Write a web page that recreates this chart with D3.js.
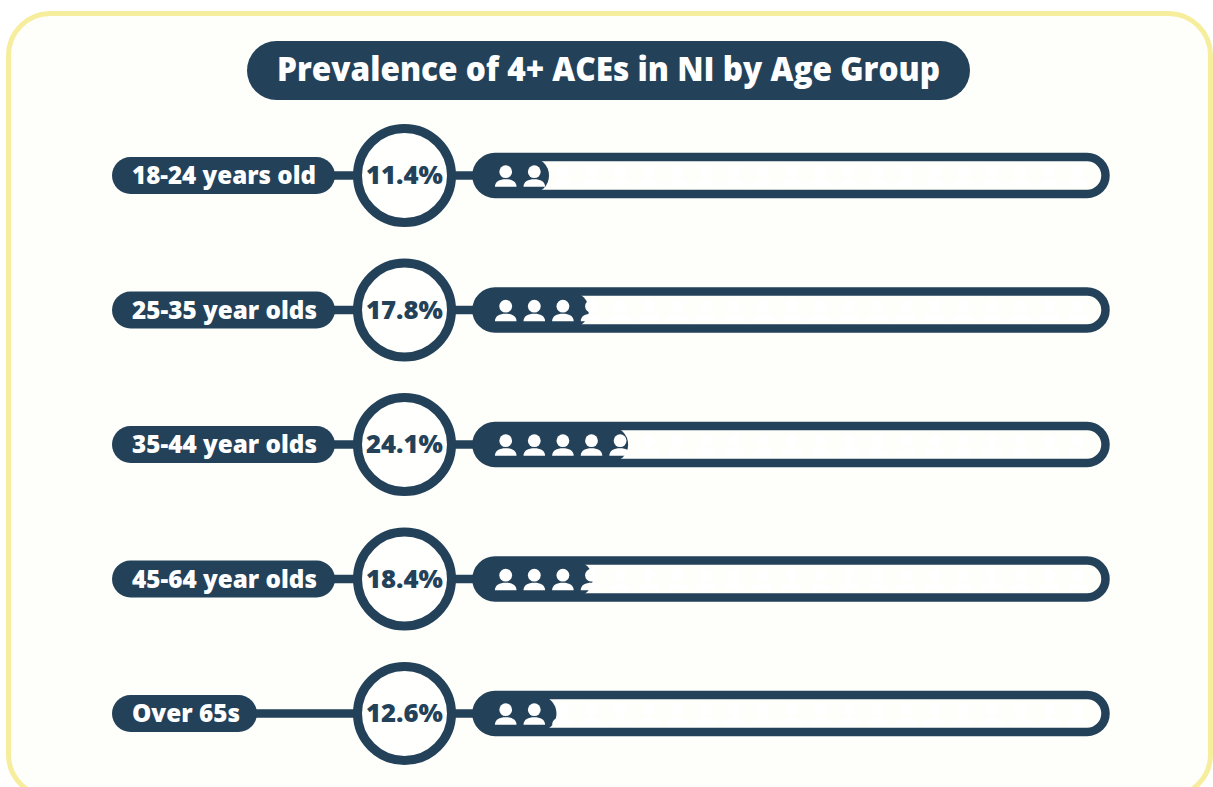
<!DOCTYPE html>
<html><head><meta charset="utf-8">
<script src="https://cdn.jsdelivr.net/npm/d3@7/dist/d3.min.js"></script>
<style>html,body{margin:0;padding:0;background:#fff;overflow:hidden}svg{display:block}text{font-family:"Open Sans",sans-serif;font-weight:800}</style>
</head><body><div id="c"></div>
<script>
const chartTitle = "Prevalence of 4+ ACEs in NI by Age Group";
const categories = ["18-24 years old","25-35 year olds","35-44 year olds","45-64 year olds","Over 65s"];
const values = [11.4,17.8,24.1,18.4,12.6];
const W=1213,H=787,dark="#23425a",paper="#fefefa",yellow="#f6ee9c";
const svg=d3.select("#c").append("svg").attr("width",W).attr("height",H);
svg.append("rect").attr("x",8.5).attr("y",13.5).attr("width",1202).attr("height",783).attr("rx",42)
  .attr("fill",paper).attr("stroke",yellow).attr("stroke-width",5);
svg.append("rect").attr("x",247).attr("y",41).attr("width",723).attr("height",59).attr("rx",29.5).attr("fill",dark);
svg.append("text").attr("x",277).attr("y",81).attr("fill","#fff")
  .attr("font-size",33).attr("textLength",663).attr("lengthAdjust","spacingAndGlyphs").text(chartTitle);
const y=d3.scalePoint().domain(categories).range([175.5,713.5]);
const x=d3.scaleLinear().domain([0,100]).range([478,1101]);
const slot=d3.scaleLinear().domain([0,1]).range([505.7,534.3]);
const slots=d3.range(21);
const pillW=d3.scaleOrdinal().domain(categories).range([223,223,223,223,145]);
const labelW=d3.scaleOrdinal().domain(categories).range([184,185,185,185,108]);
const row=svg.selectAll("g.row").data(categories.map((c,i)=>({c,v:values[i]}))).join("g")
  .attr("class","row").attr("transform",d=>`translate(0,${y(d.c)})`);
row.append("line").attr("x1",240).attr("x2",480).attr("y1",0).attr("y2",0).attr("stroke",dark).attr("stroke-width",8.5);
row.append("rect").attr("x",112).attr("y",-18.5).attr("width",d=>pillW(d.c)).attr("height",37).attr("rx",18.5).attr("fill",dark);
row.append("text").attr("x",132).attr("y",8.5).attr("fill","#fff").attr("font-size",24.5)
  .attr("textLength",d=>labelW(d.c)).attr("lengthAdjust","spacingAndGlyphs").text(d=>d.c);
row.append("circle").attr("cx",404.5).attr("cy",0).attr("r",47).attr("fill","#fffffd").attr("stroke",dark).attr("stroke-width",9);
row.append("text").attr("x",366).attr("y",8.5).attr("fill",dark).attr("font-size",25.5)
  .attr("textLength",77).attr("lengthAdjust","spacingAndGlyphs").text(d=>d.v.toFixed(1)+"%");
row.append("rect").attr("x",476.5).attr("y",-18.5).attr("width",629).attr("height",37).attr("rx",18.5)
  .attr("fill",paper).attr("stroke",dark).attr("stroke-width",8.5);
row.append("rect").attr("x",474).attr("y",-18).attr("width",d=>x(d.v)-474).attr("height",36).attr("rx",18).attr("fill",dark);
const icon=row.selectAll("g.p").data(slots).join("g").attr("class","p").attr("transform",i=>`translate(${slot(i)},0)`).attr("fill","#fff");
icon.append("circle").attr("cy",-3.8).attr("r",6.4);
icon.append("path").attr("d","M-10.8,11.2C-10.8,6,-6,3.7,0,3.7C6,3.7,10.8,6,10.8,11.2Z");
</script></body></html>
